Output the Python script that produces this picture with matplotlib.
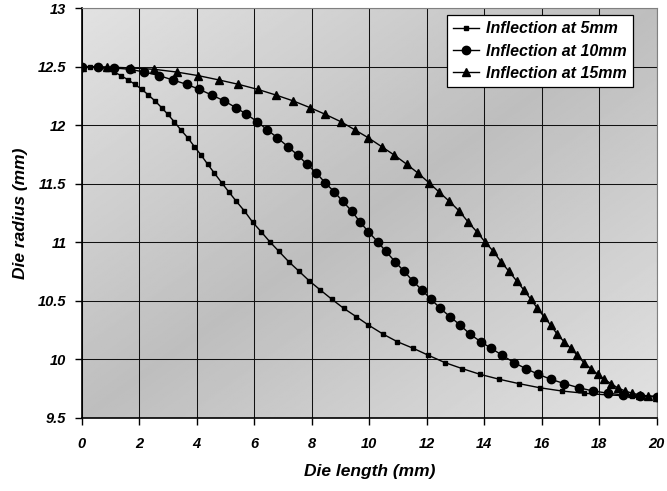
import matplotlib
matplotlib.use("Agg")
import matplotlib.pyplot as plt
import numpy as np

plt.rcParams['font.family'] = ['Liberation Sans', 'DejaVu Sans']
plt.rcParams['font.weight'] = 'bold'
plt.rcParams['font.style'] = 'italic'
plt.rcParams['axes.labelweight'] = 'bold'

# die radius (mm), same radius steps for all three profiles
radius = [12.500, 12.496, 12.488, 12.476, 12.453, 12.422, 12.385, 12.348, 12.305, 12.257,
          12.206, 12.149, 12.093, 12.028, 11.958, 11.891, 11.816, 11.744, 11.666, 11.591,
          11.507, 11.428, 11.348, 11.266, 11.169, 11.089, 11.001, 10.921, 10.833, 10.751,
          10.668, 10.591, 10.512, 10.435, 10.363, 10.292, 10.213, 10.149, 10.093, 10.033,
          9.970, 9.919, 9.871, 9.828, 9.791, 9.756, 9.728, 9.709, 9.694, 9.686, 9.680]

# die length (mm) for each inflection position
length_5 = [0.00, 0.29, 0.58, 0.87, 1.13, 1.37, 1.62, 1.85, 2.09, 2.32,
            2.55, 2.78, 2.99, 3.22, 3.45, 3.69, 3.92, 4.15, 4.38, 4.61,
            4.87, 5.12, 5.38, 5.66, 5.95, 6.24, 6.55, 6.86, 7.20, 7.56,
            7.92, 8.30, 8.70, 9.11, 9.55, 9.97, 10.49, 10.98, 11.53, 12.06,
            12.64, 13.24, 13.85, 14.53, 15.21, 15.93, 16.70, 17.47, 18.32, 19.13, 20.00]
length_10 = [0.00, 0.56, 1.13, 1.68, 2.18, 2.70, 3.17, 3.65, 4.09, 4.52,
             4.96, 5.36, 5.73, 6.11, 6.46, 6.81, 7.17, 7.51, 7.83, 8.16,
             8.47, 8.79, 9.08, 9.39, 9.69, 9.97, 10.30, 10.58, 10.90, 11.21,
             11.52, 11.83, 12.15, 12.47, 12.81, 13.16, 13.51, 13.88, 14.24, 14.63,
             15.04, 15.45, 15.88, 16.32, 16.79, 17.29, 17.79, 18.32, 18.84, 19.42, 20.00]
length_15 = [0.00, 0.87, 1.71, 2.53, 3.30, 4.06, 4.78, 5.45, 6.12, 6.75,
             7.36, 7.94, 8.46, 9.02, 9.51, 9.97, 10.43, 10.87, 11.30, 11.69,
             12.08, 12.43, 12.79, 13.13, 13.45, 13.74, 14.03, 14.32, 14.58, 14.86,
             15.13, 15.38, 15.62, 15.85, 16.08, 16.31, 16.54, 16.78, 17.01, 17.24,
             17.47, 17.71, 17.95, 18.18, 18.41, 18.64, 18.90, 19.15, 19.42, 19.71, 20.00]

x_ticks = [0, 2, 4, 6, 8, 10, 12, 14, 16, 18, 20]
y_ticks = [9.5, 10, 10.5, 11, 11.5, 12, 12.5, 13]
y_tick_labels = ['9.5', '10', '10.5', '11', '11.5', '12', '12.5', '13']

fig = plt.figure(figsize=(6.67, 4.91), dpi=100)
ax = fig.add_axes([81.7 / 667, 1 - 417.7 / 491, 575 / 667, 409.7 / 491])

# grey diagonal background, darkest along the middle band
gx, gy = np.meshgrid(np.linspace(0, 1, 300), np.linspace(0, 1, 300))
u = (gx + gy) / 2
shade = 0.885 - 0.14 * (1 - np.abs(2 * u - 1))
ax.imshow(shade, cmap='gray', vmin=0, vmax=1, extent=[0, 1, 0, 1],
          transform=ax.transAxes, aspect='auto', zorder=0, origin='upper')

ax.plot(length_5, radius, '-s', color='black', lw=1.0, ms=2.4, label='Inflection at 5mm', zorder=3)
ax.plot(length_10, radius, '-o', color='black', lw=1.0, ms=6, label='Inflection at 10mm', zorder=3)
ax.plot(length_15, radius, '-^', color='black', lw=1.0, ms=6, label='Inflection at 15mm', zorder=3)

ax.set_xlim(0, 20)
ax.set_ylim(9.5, 13)
ax.set_xticks(x_ticks)
ax.set_yticks(y_ticks)
ax.set_yticklabels(y_tick_labels)
ax.grid(True, color='#111111', lw=0.75, zorder=1)
ax.set_axisbelow(True)

ax.tick_params(axis='x', direction='out', length=5, width=1, pad=9, labelsize=10.5)
ax.tick_params(axis='y', direction='out', length=5, width=1, pad=6, labelsize=10.5)
for side in ['top', 'right']:
    ax.spines[side].set_color('#808080')
for side in ['left', 'bottom']:
    ax.spines[side].set_linewidth(1.2)

ax.set_xlabel('Die length (mm)', fontsize=12.5, labelpad=9)
ax.set_ylabel('Die radius (mm)', fontsize=12.5, labelpad=7)

leg = ax.legend(loc='upper right', bbox_to_anchor=(0.9588, 0.983), borderaxespad=0,
                fontsize=11.5, frameon=True, fancybox=False, framealpha=1, edgecolor='black',
                handlelength=1.6, handletextpad=0.45, borderpad=0.4, labelspacing=0.45)
leg.get_frame().set_linewidth(0.9)

fig.savefig('out.png', dpi=100)
